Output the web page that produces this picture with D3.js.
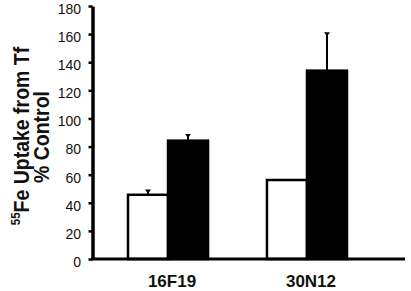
<!DOCTYPE html>
<html>
<head>
<meta charset="utf-8">
<script src="https://cdn.jsdelivr.net/npm/d3@7"></script>
<style>
  html, body { margin: 0; padding: 0; background: #fff; }
  svg { display: block; }
  text { font-family: "Liberation Sans", Arial, Helvetica, sans-serif; fill: #111; }
</style>
</head>
<body>
<svg id="chart" width="411" height="291"></svg>
<script>
const categories = ["16F19", "30N12"];
const seriesNames = ["open", "filled"];
const openValues = [45.7, 56.2];
const openErrors = [3, 0];
const filledValues = [84.2, 134.0];
const filledErrors = [4, 26.6];
const yTicks = [0, 20, 40, 60, 80, 100, 120, 140, 160, 180];

const svg = d3.select("#chart");

const y = d3.scaleLinear().domain([0, 180]).range([259, 6]);
const x = d3.scaleBand().domain(categories)
  .range([128, 128 + 219]).paddingInner(0.424).paddingOuter(0);
const xs = d3.scaleBand().domain(seriesNames).range([0, x.bandwidth()]).padding(0);

const rows = [];
categories.forEach((c, i) => {
  rows.push({cat: c, s: "open", v: openValues[i], e: openErrors[i]});
  rows.push({cat: c, s: "filled", v: filledValues[i], e: filledErrors[i]});
});

// bars
const g = svg.append("g");
g.selectAll("rect.bar").data(rows).enter().append("rect")
  .attr("class", "bar")
  .attr("x", d => x(d.cat) + xs(d.s))
  .attr("y", d => y(d.v))
  .attr("width", xs.bandwidth())
  .attr("height", d => y(0) - y(d.v))
  .attr("fill", d => d.s === "open" ? "#fff" : "#000")
  .attr("stroke", "#000")
  .attr("stroke-width", 2.5);

// error bars (upper only)
const eb = rows.filter(d => d.e > 0);
g.selectAll("line.err").data(eb).enter().append("line")
  .attr("x1", d => x(d.cat) + xs(d.s) + xs.bandwidth() / 2)
  .attr("x2", d => x(d.cat) + xs(d.s) + xs.bandwidth() / 2)
  .attr("y1", d => y(d.v))
  .attr("y2", d => y(d.v + d.e))
  .attr("stroke", "#000").attr("stroke-width", 2);
g.selectAll("path.cap").data(eb).enter().append("path")
  .attr("d", d => {
    const cx = x(d.cat) + xs(d.s) + xs.bandwidth() / 2;
    const cy = y(d.v + d.e);
    return `M${cx - 3},${cy - 1}L${cx + 3},${cy - 1}L${cx},${cy + 3}Z`;
  })
  .attr("fill", "#000");

// baseline
svg.append("line")
  .attr("x1", 91).attr("x2", 405)
  .attr("y1", y(0)).attr("y2", y(0))
  .attr("stroke", "#000").attr("stroke-width", 3);

// y axis
const yAxis = d3.axisLeft(y).tickValues(yTicks).tickSize(4).tickSizeOuter(0).tickPadding(7.5);
const ya = svg.append("g").attr("transform", "translate(92.5,0)").call(yAxis);
ya.select(".domain").attr("stroke", "#000").attr("stroke-width", 3.5);
ya.selectAll(".tick line").attr("stroke", "#000").attr("stroke-width", 2.5);
ya.selectAll(".tick text")
  .attr("dy", "0.53em")
  .style("font-size", "14px")
  .style("font-family", "'Liberation Sans', Arial, sans-serif")
  .attr("fill", "#111");

// category labels
svg.selectAll("text.cat").data(categories).enter().append("text")
  .attr("class", "cat")
  .attr("x", d => x(d) + x.bandwidth() / 2 + 4)
  .attr("y", 287)
  .attr("text-anchor", "middle")
  .style("font-size", "17px")
  .style("font-weight", "bold")
  .text(d => d);

// y title
const t1 = svg.append("text")
  .attr("transform", "translate(25,136) rotate(-90) scale(1,1.1)")
  .attr("text-anchor", "middle")
  .style("font-size", "19.5px")
  .style("font-weight", "bold");
t1.append("tspan").attr("dy", "-0.42em").style("font-size", "11.5px").text("55");
t1.append("tspan").attr("dy", "0.42em").text("Fe Uptake from Tf");

svg.append("text")
  .attr("transform", "translate(49,137) rotate(-90) scale(1,1.1)")
  .attr("text-anchor", "middle")
  .style("font-size", "19.5px")
  .style("font-weight", "bold")
  .text("% Control");
</script>
</body>
</html>
